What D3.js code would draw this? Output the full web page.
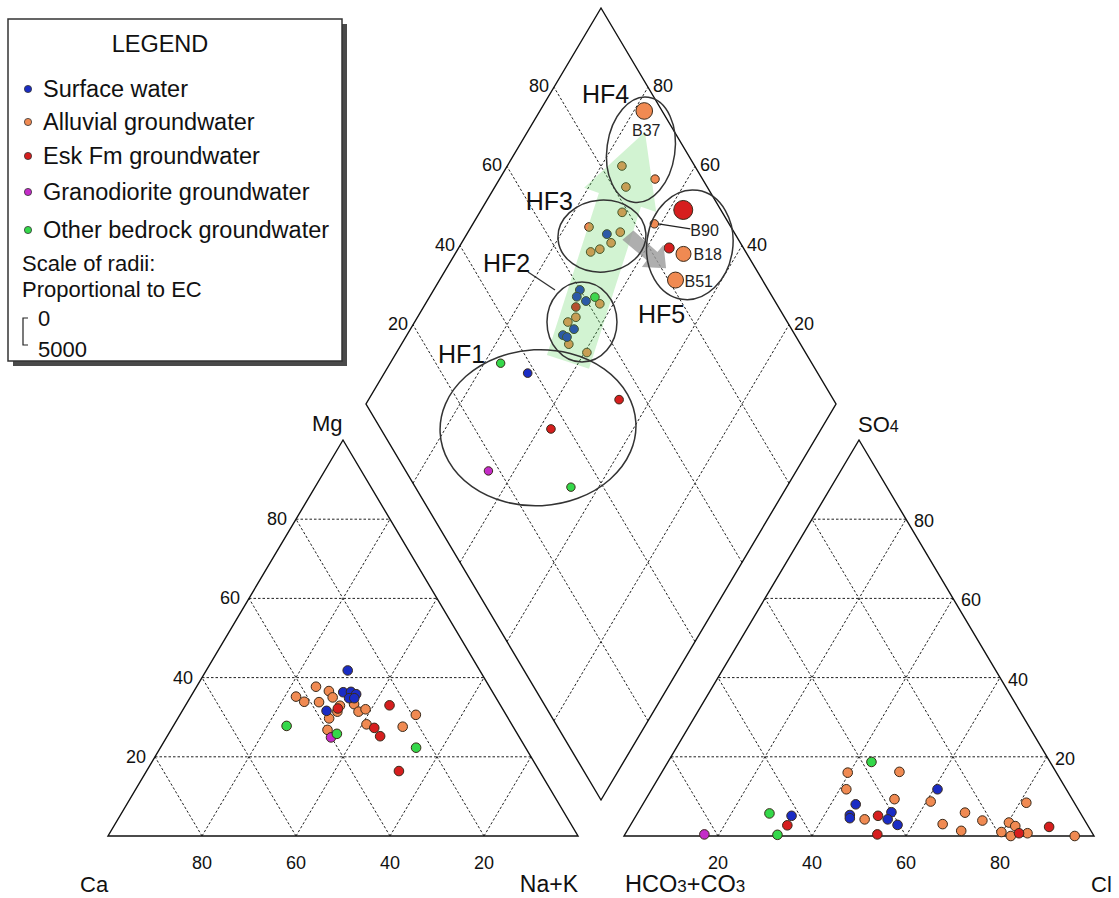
<!DOCTYPE html>
<html><head><meta charset="utf-8">
<script src="https://cdn.jsdelivr.net/npm/d3@7"></script>
<style>body{margin:0;background:#fff}svg{display:block}</style>
</head><body><svg id="c" width="1119" height="898"></svg>
<script>
// ---------- data ----------
const TYPES = ["Surface water","Alluvial groundwater","Esk Fm groundwater","Granodiorite groundwater","Other bedrock groundwater"];
const TYPE_COLORS = ["#1a2cc4","#f08a52","#d61e1e","#c42cc8","#34d84a"];
const DRAW_ORDER = [1,3,4,2,0];
const TICKS = [20,40,60,80];

// cation triangle: [type, Ca %, Mg %]
const cations = [
 [0,28.1,41.8],[1,36.9,37.7],[1,34.7,36.6],[0,31.8,36.3],[0,30.1,36.4],[0,29.3,35.8],
 [0,31.3,34.8],[0,30.2,34.8],[1,34.7,35.0],[1,42.4,35.2],[1,41.3,33.9],[1,38.2,33.8],
 [1,31.0,33.3],[1,34.2,32.9],[2,35.0,32.2],[0,37.7,31.6],[1,35.5,31.4],[1,31.0,31.4],
 [1,29.2,32.0],[1,38.1,29.7],[2,23.6,33.0],[1,19.2,30.6],[4,48.1,27.8],[1,30.9,28.2],
 [2,29.7,27.3],[1,23.5,27.6],[1,39.9,26.8],[4,38.4,25.8],[3,40.1,24.9],[2,29.5,25.2],
 [4,23.3,22.3],[2,29.9,16.4]
];
// anion triangle: [type, Cl %, SO4 %]
const anions = [
 [3,16.9,0.4],[4,28.1,5.7],[0,33.1,5.1],[2,33.4,2.7],[4,32.5,0.3],[4,43.3,18.7],
 [1,39.6,16.0],[1,50.5,16.2],[1,41.4,11.8],[0,45.3,8.0],[0,45.4,5.3],[0,45.8,4.5],
 [1,49.1,4.2],[2,51.5,5.1],[1,52.9,9.3],[0,53.9,6.0],[0,54.0,4.2],[0,56.8,2.8],
 [2,53.7,0.4],[0,60.8,11.8],[1,60.9,8.7],[1,69.6,5.9],[1,66.3,3.0],[1,71.1,1.3],
 [1,74.3,3.9],[1,81.4,8.4],[1,80.2,3.4],[1,82.0,2.5],[1,79.8,1.0],[1,82.3,0.0],
 [2,83.7,0.7],[1,85.5,0.7],[2,89.3,2.3],[1,95.9,0.0]
];
// diamond: [type, SO4+Cl %, Ca+Mg %, EC (uS/cm), label]
const diamond = [
 [1,96.2,77.8,1540,"B37"],[1,84.5,75.6,800,""],[1,82.7,72.1,800,""],[1,89.9,66.9,780,""],
 [1,78.7,69.7,800,""],[1,69.8,74.9,800,""],[0,72.7,70.2,820,""],[1,75.8,67.6,800,""],
 [1,72.5,68.2,800,""],[1,69.3,69.8,800,""],[1,67.0,71.4,800,""],
 [2,92.0,57.0,1760,""],[1,84.1,61.4,780,"B90"],[2,84.2,55.2,930,""],[1,86.5,51.4,1390,"B18"],[1,81.5,49.8,1480,"B51"],
 [0,59.9,68.9,820,""],[0,58.4,68.7,820,""],[0,59.8,66.2,820,""],[4,62.2,64.8,800,""],
 [1,62.4,62.9,800,""],[2,56.9,67.6,800,""],[1,55.6,66.3,800,""],[1,53.3,67.4,800,""],
 [0,53.7,65.2,820,""],[0,50.6,66.8,820,""],[0,51.2,65.7,820,""],[1,50.7,64.4,800,""],[1,53.5,59.5,800,""],
 [4,33.8,76.5,780,""],[0,38.3,69.5,800,""],[2,54.4,46.7,800,""],[2,36.2,57.5,800,""],
 [3,17.6,65.5,780,""],[4,33.1,45.9,780,""]
];
// hydrochemical facies groups: [name, centre SO4+Cl, centre Ca+Mg, rx, ry, rotation]
const facies = [
 ["HF4",90.6,73.6,34,53,8],["HF3",71.4,71.0,44,36,-4],["HF5",89.0,51.2,43,55,8],
 ["HF2",56.3,64.4,35,40,0],["HF1",33.6,60.4,98,78,-3]
];
// evolution arrows, vertices in [SO4+Cl, Ca+Mg]
const greenArrow = [[44.7,67.7],[51.9,57.0],[83.4,66.4],[86.0,62.5],[93.7,75.0],[73.7,80.9],[76.2,77.1]];
const greyArrow = [[75.3,66.2],[78.8,65.0],[81.2,57.2],[83.4,56.8],[81.0,53.3],[76.0,58.6],[77.9,58.4]];

// ---------- geometry / scales ----------
const svg = d3.select("#c");
const yTri = d3.scaleLinear().domain([0,100]).range([836,440]);
const xCat = d3.scaleLinear().domain([0,100]).range([108,578]);
const xAn  = d3.scaleLinear().domain([0,100]).range([624,1094]);
const xDia = d3.scaleLinear().domain([-100,100]).range([366,836]);
const yDia = d3.scaleLinear().domain([0,200]).range([800,8]);
const rScale = d3.scaleLinear().domain([0,5000]).range([0,27]);

const catPos = (ca,mg)=>{const nak=100-ca-mg;return [xCat(nak+mg/2), yTri(mg)];};
const anPos = (cl,so4)=>[xAn(cl+so4/2), yTri(so4)];
const diaPos = (u,v)=>[xDia(u-v), yDia(u+v)];

const line = d3.line();
const FONT = "'Liberation Sans', Arial, sans-serif";

function dashed(g,a,b){g.append("path").attr("d",line([a,b])).attr("stroke","#222").attr("stroke-width",1).attr("stroke-dasharray","2.5,2").attr("fill","none");}
function solid(g,pts){g.append("path").attr("d",line(pts)+"Z").attr("stroke","#111").attr("stroke-width",1.4).attr("fill","none");}

const gGrid = svg.append("g");
TICKS.forEach(t=>{
  dashed(gGrid, catPos(100-t,t), catPos(0,t));
  dashed(gGrid, catPos(t,0), catPos(t,100-t));
  dashed(gGrid, catPos(100-t,0), catPos(0,100-t));
  dashed(gGrid, anPos(100-t,t), anPos(0,t));
  dashed(gGrid, anPos(t,0), anPos(t,100-t));
  dashed(gGrid, anPos(100-t,0), anPos(0,100-t));
  dashed(gGrid, diaPos(t,0), diaPos(t,100));
  dashed(gGrid, diaPos(0,t), diaPos(100,t));
});
solid(gGrid,[catPos(100,0),catPos(0,0),catPos(0,100)]);
solid(gGrid,[anPos(0,0),anPos(100,0),anPos(0,100)]);
solid(gGrid,[diaPos(0,0),diaPos(100,0),diaPos(100,100),diaPos(0,100)]);

// tick labels
const gT = svg.append("g").attr("font-family",FONT).attr("font-size",18).attr("fill","#111");
TICKS.forEach(t=>{
  let p=catPos(100-t,t); gT.append("text").attr("x",p[0]-9).attr("y",p[1]+6).attr("text-anchor","end").text(t);
  p=catPos(t,0); gT.append("text").attr("x",p[0]).attr("y",869).attr("text-anchor","middle").text(t);
  p=anPos(100-t,t); gT.append("text").attr("x",p[0]+8).attr("y",p[1]+8).attr("text-anchor","start").text(t);
  p=anPos(t,0); gT.append("text").attr("x",p[0]).attr("y",869).attr("text-anchor","middle").text(t);
  p=diaPos(t,100); gT.append("text").attr("x",p[0]-5).attr("y",p[1]+5).attr("text-anchor","end").text(t);
  p=diaPos(100,t); gT.append("text").attr("x",p[0]+5).attr("y",p[1]+5).attr("text-anchor","start").text(t);
});

// axis names
const gA = svg.append("g").attr("font-family",FONT).attr("font-size",22).attr("fill","#111");
gA.append("text").attr("x",80).attr("y",892).text("Ca");
gA.append("text").attr("x",578).attr("y",892).attr("text-anchor","end").attr("font-size",23).text("Na+K");
const hc = gA.append("text").attr("x",625).attr("y",892).attr("font-size",23.5);
hc.append("tspan").text("HCO");hc.append("tspan").attr("font-size",17).text("3");
hc.append("tspan").text("+CO");hc.append("tspan").attr("font-size",17).text("3");
gA.append("text").attr("x",1091).attr("y",892).text("Cl");
gA.append("text").attr("x",312).attr("y",431).text("Mg");
const so = gA.append("text").attr("x",858).attr("y",432);
so.append("tspan").text("SO");so.append("tspan").attr("font-size",16).text("4");

// ---------- points ----------
function dots(g,data,posFn,rFn){
  DRAW_ORDER.forEach(ti=>{
    data.filter(d=>d[0]===ti).forEach(d=>{
      const p=posFn(d);
      g.append("circle").attr("cx",p[0]).attr("cy",p[1]).attr("r",rFn(d))
       .attr("fill",TYPE_COLORS[ti]).attr("stroke","#3a2a1a").attr("stroke-width",1);
    });
  });
}
const gP = svg.append("g");
dots(gP,cations,d=>catPos(d[1],d[2]),()=>4.8);
dots(gP,anions,d=>anPos(d[1],d[2]),()=>4.8);
dots(gP,diamond,d=>diaPos(d[1],d[2]),d=>rScale(d[3]));

// arrows
svg.append("path").attr("d",line(greenArrow.map(a=>diaPos(a[0],a[1])))+"Z")
  .attr("fill","#5fd35f").attr("fill-opacity",0.28).attr("stroke","none");
svg.append("path").attr("d",line(greyArrow.map(a=>diaPos(a[0],a[1])))+"Z")
  .attr("fill","#9a9a9a").attr("fill-opacity",0.8).attr("stroke","none");

// facies ellipses
const gE = svg.append("g");
facies.forEach(f=>{
  const p=diaPos(f[1],f[2]);
  gE.append("ellipse").attr("cx",0).attr("cy",0).attr("rx",f[3]).attr("ry",f[4])
    .attr("transform",`translate(${p[0]},${p[1]}) rotate(${f[5]})`)
    .attr("fill","none").attr("stroke","#333").attr("stroke-width",1.5);
});
const faciesLabels = [["HF4",582,103,"start"],["HF3",573,210,"end"],["HF2",483,272,"start"],["HF1",438,363,"start"],["HF5",638,323,"start"]];
const gL = svg.append("g").attr("font-family",FONT).attr("font-size",25).attr("fill","#111");
faciesLabels.forEach(l=>gL.append("text").attr("x",l[1]).attr("y",l[2]).attr("text-anchor",l[3]).text(l[0]));
svg.append("path").attr("d",line([[528,272],[555,290]])).attr("stroke","#333").attr("stroke-width",1.3);

// sample labels
const gS = svg.append("g").attr("font-family",FONT).attr("font-size",16).attr("fill","#222");
diamond.filter(d=>d[4]).forEach(d=>{
  const p=diaPos(d[1],d[2]);
  if(d[4]==="B37") gS.append("text").attr("x",p[0]+2).attr("y",p[1]+25).attr("text-anchor","middle").text("B37");
  if(d[4]==="B90"){
    svg.append("path").attr("d",line([[p[0]+4,p[1]],[p[0]+36,p[1]+5]])).attr("stroke","#222").attr("stroke-width",1.3);
    gS.append("text").attr("x",p[0]+36).attr("y",p[1]+12).text("B90");
  }
  if(d[4]==="B18") gS.append("text").attr("x",p[0]+10).attr("y",p[1]+6).text("B18");
  if(d[4]==="B51") gS.append("text").attr("x",p[0]+9).attr("y",p[1]+7).text("B51");
});

// ---------- legend ----------
const lg = svg.append("g").attr("font-family",FONT).attr("fill","#111");
lg.append("rect").attr("x",13).attr("y",24).attr("width",334).attr("height",342).attr("fill","#4a4a4a");
lg.append("rect").attr("x",8).attr("y",19).attr("width",334).attr("height",342).attr("fill","#fff").attr("stroke","#333").attr("stroke-width",1.5);
lg.append("text").attr("x",160).attr("y",52).attr("text-anchor","middle").attr("font-size",23.5).text("LEGEND");
const legY=[89,122,156,192,230];
TYPES.forEach((t,i)=>{
  lg.append("circle").attr("cx",28).attr("cy",legY[i]).attr("r",3.6).attr("fill",TYPE_COLORS[i]).attr("stroke","#333").attr("stroke-width",0.8);
  lg.append("text").attr("x",43).attr("y",legY[i]+8).attr("font-size",23.5).text(t);
});
lg.append("text").attr("x",22).attr("y",271).attr("font-size",22).text("Scale of radii:");
lg.append("text").attr("x",22).attr("y",297).attr("font-size",22).text("Proportional to EC");
const b0=318, b1=b0+rScale(5000);
lg.append("path").attr("d",`M28,${b0}H23V${b1}H28`).attr("fill","none").attr("stroke","#222").attr("stroke-width",1.2);
lg.append("text").attr("x",38).attr("y",b0+8).attr("font-size",22).text("0");
lg.append("text").attr("x",38).attr("y",b1+12).attr("font-size",22).text("5000");
</script></body></html>
